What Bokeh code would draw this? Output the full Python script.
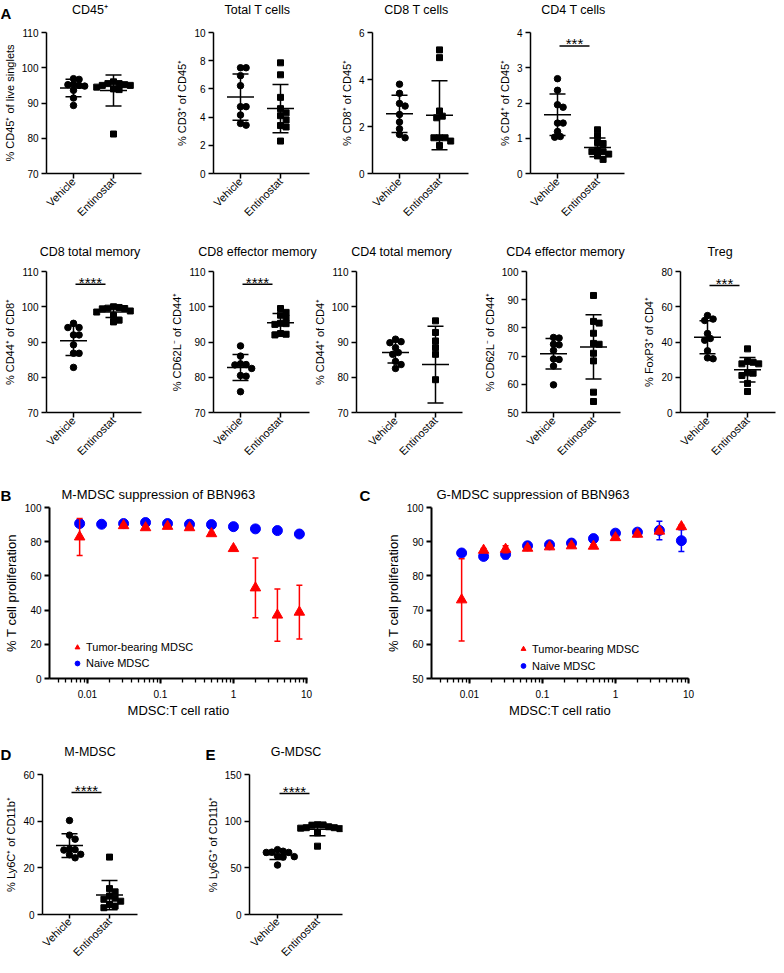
import math
import numpy as np
from bokeh.plotting import figure
from bokeh.layouts import row, column
from bokeh.models import (Range1d, FixedTicker, Legend, LegendItem,
                          CustomJSTickFormatter)
from bokeh.core.properties import value
from bokeh.embed import file_html
from bokeh.resources import INLINE

FONT = "Liberation Sans"
NAN = float("nan")

# ---------------- data ----------------
groups = ["Vehicle", "Entinostat"]

cd45_veh = [96.9, 96.7, 95.2, 95.0, 95.3, 94.8, 93.6, 91.4, 89.3]
cd45_ent = [95.5, 95.0, 95.2, 96.0, 95.0, 94.5, 94.0, 95.5, 93.8, 81.2]
totalt_veh = [7.5, 7.5, 6.94, 6.23, 4.74, 4.74, 4.15, 3.55, 3.43]
totalt_ent = [7.85, 7.0, 5.4, 4.6, 4.3, 4.1, 3.8, 3.3, 3.4, 2.3]
cd8_veh = [3.80, 3.41, 2.98, 2.87, 2.51, 2.19, 1.90, 1.52, 1.66]
cd8_ent = [5.26, 4.93, 2.66, 2.44, 2.37, 1.52, 1.52, 1.52, 1.19, 1.38]
cd4_veh = [2.69, 2.36, 1.95, 1.88, 1.43, 1.43, 1.19, 1.03, 1.05]
cd4_ent = [1.24, 1.07, 0.88, 0.85, 0.62, 0.55, 0.67, 0.62, 0.40, 0.50]
cd8tm_veh = [95.3, 94.1, 94.1, 92.0, 92.0, 89.2, 86.8, 86.8, 82.8]
cd8tm_ent = [99.6, 99.5, 99.8, 100.0, 99.4, 98.8, 98.5, 97.5, 96.2, 95.7]
cd8em_veh = [88.9, 86.0, 83.8, 83.5, 83.6, 82.5, 80.5, 80.3, 75.9]
cd8em_ent = [99.5, 98.4, 97.6, 96.8, 95.2, 95.0, 95.3, 92.2, 92.0, 92.4]
cd4tm_veh = [90.8, 90.1, 89.8, 88.4, 87.0, 86.5, 84.5, 83.6, 82.5]
cd4tm_ent = [96.0, 92.7, 90.3, 88.4, 86.5, 79.3, 67.8, 67.8]
cd4em_veh = [76.6, 76.4, 74.2, 74.0, 72.0, 69.0, 68.8, 66.5, 59.8]
cd4em_ent = [91.5, 81.7, 82.3, 78.1, 74.2, 74.5, 71.0, 68.3, 57.2, 53.9]
treg_veh = [55.0, 53.0, 52.2, 44.8, 42.0, 41.0, 35.0, 30.5, 31.0]
treg_ent = [36.1, 27.6, 29.0, 28.5, 27.6, 22.3, 21.0, 22.5, 16.5, 11.9]
mmdsc_veh = [40.3, 34.0, 32.3, 28.0, 27.8, 27.6, 25.6, 24.3, 25.8]
mmdsc_ent = [24.6, 11.1, 9.7, 7.9, 5.7, 4.3, 2.9, 3.6, 6.5, 7.0]
gmdsc_veh = [69.5, 67.8, 66.5, 66.5, 66.8, 62.5, 61.5, 62.0, 53.0]
gmdsc_ent = [95.7, 96.0, 96.2, 93.0, 93.0, 92.0, 94.0, 87.5, 73.2, 92.5]

ratio = [0.0078125, 0.015625, 0.03125, 0.0625, 0.125, 0.25, 0.5, 1, 2, 4, 8]
b_naive = [90.6, 90.2, 90.6, 91.2, 90.6, 90.2, 90.0, 88.8, 87.5, 86.5, 84.5]
b_naive_sd = [0.6, 0.5, 0.5, 0.6, 0.5, 0.5, 0.5, 0.6, 0.6, 0.6, 0.7]
b_tumor = [82.8, NAN, 89.4, 88.2, 89.0, 88.2, 84.7, 76.0, 53.0, 37.1, 38.8]
b_tumor_sd = [10.8, NAN, 0.8, 0.8, 0.8, 0.8, 0.8, 0.8, 17.5, 15.3, 15.7]
c_naive = [86.7, 85.7, 86.3, 88.8, 89.1, 89.6, 90.9, 92.5, 92.8, 93.3, 90.3]
c_naive_sd = [0.3, 0.4, 1.3, 0.4, 0.4, 0.4, 0.4, 0.4, 0.4, 2.7, 3.2]
c_tumor = [73.0, 87.5, 87.8, 88.1, 88.5, 88.8, 88.7, 91.2, 92.2, 93.1, 94.4]
c_tumor_sd = [12.0, 0.5, 1.0, 0.5, 0.5, 0.5, 0.5, 0.5, 0.5, 0.5, 0.5]

PAGE_W = 768

# ---------------- helpers ----------------
def base_fig(fw, fh, xr, yr, left, right, top, bottom, log=False):
    kw = dict(frame_width=fw, frame_height=fh, x_range=xr, y_range=yr,
              min_border_left=left, min_border_right=right,
              min_border_top=top, min_border_bottom=bottom, title=None,
              output_backend="svg", toolbar_location=None)
    if log:
        kw["x_axis_type"] = "log"
    p = figure(**kw)
    p.outline_line_color = None
    p.xgrid.visible = False
    p.ygrid.visible = False
    return p


def strip(h, texts):
    """A text-only band; texts = (x, y_from_top, text, size, align, bold)."""
    p = figure(frame_width=PAGE_W, frame_height=h, x_range=Range1d(0, PAGE_W),
               y_range=Range1d(h, 0), min_border_left=0, min_border_right=0,
               min_border_top=0, min_border_bottom=0, title=None,
               output_backend="svg", toolbar_location=None)
    p.axis.visible = False
    p.xgrid.visible = False
    p.ygrid.visible = False
    p.outline_line_color = None
    for x, y, t, size, align, bold in texts:
        p.text(x=[x], y=[y], text=[t], text_font=value(FONT), text_font_size=size,
               text_align=align, text_baseline="alphabetic", text_color="black",
               text_font_style="bold" if bold else "normal")
    return p


def style_axes(p, lw):
    for ax in p.axis:
        ax.axis_line_width = lw
        ax.axis_line_color = "black"
        ax.major_tick_line_width = lw
        ax.major_tick_line_color = "black"
        ax.major_tick_in = 0
        ax.major_tick_out = 5
        ax.minor_tick_line_color = None
        ax.major_label_text_font = FONT
        ax.major_label_text_color = "black"
        ax.axis_label_text_font = FONT
        ax.axis_label_text_font_style = "normal"
        ax.axis_label_text_color = "black"


def swarm(vals, pxy, d):
    n = len(vals)
    order = sorted(range(n), key=lambda i: -vals[i])
    cands = [0.0]
    for k in range(1, 16):
        cands += [k * d / 2.0, -k * d / 2.0]
    placed, offs = [], [0.0] * n
    for i in order:
        y = vals[i] * pxy
        for c in cands:
            if all((c - px) ** 2 + (y - py) ** 2 >= d * d * 0.999 for px, py in placed):
                offs[i] = c
                placed.append((c, y))
                break
    return offs


def dot_panel(ylabel, veh, ent, yr, yticks, fw, x0, left, right, top, bottom,
              fh=141, sig=None, tick_out=5):
    x1 = x0 + fw / 40.0
    p = base_fig(fw, fh, Range1d(x0, x1), Range1d(*yr), left, right, top, bottom)
    style_axes(p, 1.5)
    p.xaxis.major_tick_out = tick_out
    p.xaxis.ticker = FixedTicker(ticks=[1, 2])
    p.xaxis.major_label_overrides = {1: groups[0], 2: groups[1]}
    p.xaxis.major_label_orientation = math.pi / 4
    p.xaxis.major_label_text_font_size = "11px"
    p.xaxis.major_label_standoff = 1
    p.yaxis.ticker = FixedTicker(ticks=yticks)
    p.yaxis.major_label_text_font_size = "10px"
    p.yaxis.major_label_standoff = 3
    p.yaxis.axis_label = ylabel
    p.yaxis.axis_label_text_font_size = "11px"
    p.yaxis.axis_label_standoff = 3
    pxx = fw / (x1 - x0)
    pxy = fh / (yr[1] - yr[0])
    for gi, (vals, marker, size) in enumerate([(veh, "circle", 6.5), (ent, "square", 6.0)]):
        xc = gi + 1
        offs = swarm(vals, pxy, 5.6)
        xs = [xc + o / pxx for o in offs]
        p.scatter(xs, vals, marker=marker, size=size, fill_color="black", line_color="black")
        m = float(np.mean(vals))
        s = float(np.std(vals, ddof=1))
        p.segment(x0=[xc], y0=[m - s], x1=[xc], y1=[m + s], line_width=1.5, line_color="black")
        p.scatter([xc, xc], [m - s, m + s], marker="dash", size=16, line_width=1.5, line_color="black")
        p.scatter([xc], [m], marker="dash", size=27, line_width=1.5, line_color="black")
    if sig is not None:
        sy, stars = sig
        p.segment(x0=[1.05], y0=[sy], x1=[1.8], y1=[sy], line_width=1.5, line_color="black")
        p.text(x=[1.425], y=[sy], text=[stars], text_font=value(FONT), text_font_size="15px",
               text_align="center", text_baseline="middle", y_offset=-2, text_color="black")
    return p


def curve_panel(naive, naive_sd, tumor, tumor_sd, yr, yticks, fw, fh, left, right,
                top, bottom, legend_loc, glyph_h):
    xr = Range1d(10 ** -2.52, 10 ** (-2.52 + fw / 73.0))
    p = base_fig(fw, fh, xr, Range1d(*yr), left, right, top, bottom, log=True)
    style_axes(p, 2)
    majors = [0.01, 0.1, 1, 10]
    minors = [m * 10.0 ** k for k in range(-3, 2) for m in range(1, 10)
              if 10 ** -2.52 <= m * 10.0 ** k <= 10.5]
    p.xaxis.ticker = FixedTicker(ticks=majors, minor_ticks=minors)
    p.xaxis.formatter = CustomJSTickFormatter(code="return tick.toString();")
    p.xaxis.minor_tick_line_color = "black"
    p.xaxis.minor_tick_line_width = 1.3
    p.xaxis.minor_tick_in = 0
    p.xaxis.minor_tick_out = 4
    p.xaxis.major_label_text_font_size = "10px"
    p.xaxis.major_label_standoff = 6
    p.xaxis.axis_label = "MDSC:T cell ratio"
    p.xaxis.axis_label_text_font_size = "13px"
    p.xaxis.axis_label_standoff = 2
    p.yaxis.ticker = FixedTicker(ticks=yticks)
    p.yaxis.major_label_text_font_size = "10px"
    p.yaxis.major_label_standoff = 3
    p.yaxis.axis_label = "% T cell proliferation"
    p.yaxis.axis_label_text_font_size = "13px"
    p.yaxis.axis_label_standoff = 3

    blue, red = "#0000FF", "#FF0000"
    lo = [m - s for m, s in zip(naive, naive_sd)]
    hi = [m + s for m, s in zip(naive, naive_sd)]
    p.segment(x0=ratio, y0=lo, x1=ratio, y1=hi, line_color=blue, line_width=1.5)
    p.scatter(ratio + ratio, lo + hi, marker="dash", size=6, line_color=blue, line_width=1.5)
    r_blue = p.scatter(ratio, naive, marker="circle", size=10, fill_color=blue, line_color=blue)
    lo = [m - s for m, s in zip(tumor, tumor_sd)]
    hi = [m + s for m, s in zip(tumor, tumor_sd)]
    p.segment(x0=ratio, y0=lo, x1=ratio, y1=hi, line_color=red, line_width=1.5)
    p.scatter(ratio + ratio, lo + hi, marker="dash", size=6, line_color=red, line_width=1.5)
    r_red = p.scatter(ratio, tumor, marker="triangle", size=10.5, fill_color=red, line_color=red)

    leg = Legend(items=[LegendItem(label="Tumor-bearing MDSC", renderers=[r_red]),
                        LegendItem(label="Naive MDSC", renderers=[r_blue])],
                 location=legend_loc, border_line_color=None, background_fill_alpha=0,
                 padding=0, margin=0, spacing=0, glyph_width=12, glyph_height=glyph_h,
                 label_height=glyph_h, label_standoff=3, label_text_font=FONT,
                 label_text_font_size="11px", label_text_color="black")
    p.add_layout(leg)
    return p


T = "12.5px"
L = "15px"

# ---------------- Row A ----------------
stripA = strip(26, [(0, 12.5, "A", L, "left", True),
                    (89.5, 9.5, "CD45\u207a", T, "center", False),
                    (257, 9.5, "Total T cells", T, "center", False),
                    (416, 9.5, "CD8 T cells", T, "center", False),
                    (573, 9.5, "CD4 T cells", T, "center", False)])
a1 = dot_panel("% CD45\u207a of live singlets", cd45_veh, cd45_ent,
               (70, 110), [70, 80, 90, 100, 110], 95, 0.325, 42, 22, 6, 53)
a2 = dot_panel("% CD3\u207a of CD45\u207a", totalt_veh, totalt_ent,
               (0, 10), [0, 2, 4, 6, 8, 10], 96, 0.325, 50, 13, 6, 53)
a3 = dot_panel("% CD8\u207a of CD45\u207a", cd8_veh, cd8_ent,
               (0, 6), [0, 2, 4, 6], 96, 0.325, 50, 12, 6, 53)
a4 = dot_panel("% CD4\u207a of CD45\u207a", cd4_veh, cd4_ent,
               (0, 4), [0, 1, 2, 3, 4], 94, 0.325, 50, 10, 6, 53, sig=(3.62, "***"))

# ---------------- Row A (second line) ----------------
strip2 = strip(38, [(89.5, 25, "CD8 total memory", T, "center", False),
                    (257, 25, "CD8 effector memory", T, "center", False),
                    (401, 25, "CD4 total memory", T, "center", False),
                    (565, 25, "CD4 effector memory", T, "center", False),
                    (719.5, 25, "Treg", T, "center", False)])
b1 = dot_panel("% CD44\u207a of CD8\u207a", cd8tm_veh, cd8tm_ent,
               (70, 110), [70, 80, 90, 100, 110], 95, 0.325, 42, 22, 7, 52,
               sig=(106.4, "****"))
b2 = dot_panel("% CD62L\u207b of CD44\u207a", cd8em_veh, cd8em_ent,
               (70, 110), [70, 80, 90, 100, 110], 96, 0.325, 50, 1, 7, 52,
               sig=(106.4, "****"))
b3 = dot_panel("% CD44\u207a of CD4\u207a", cd4tm_veh, cd4tm_ent,
               (70, 110), [70, 80, 90, 100, 110], 106, 0.025, 42, 14, 7, 52)
b4 = dot_panel("% CD62L\u207b of CD44\u207a", cd4em_veh, cd4em_ent,
               (50, 100), [50, 60, 70, 80, 90, 100], 94, 0.325, 50, 12, 7, 52)
b5 = dot_panel("% FoxP3\u207a of CD4\u207a", treg_veh, treg_ent,
               (0, 80), [0, 20, 40, 60, 80], 95, 0.325, 48, 1, 7, 52, sig=(72.1, "***"))

# ---------------- Row B / C ----------------
stripBC = strip(38, [(0, 30.5, "B", L, "left", True),
                     (359, 30.5, "C", L, "left", True),
                     (61, 30, "M-MDSC suppression of BBN963", "13px", "left", False),
                     (436, 30, "G-MDSC suppression of BBN963", "13px", "left", False)])
pB = curve_panel(b_naive, b_naive_sd, b_tumor, b_tumor_sd,
                 (0, 100), [0, 20, 40, 60, 80, 100], 258, 171, 41, 75, 5, 48, (22, 7), 16)
pC = curve_panel(c_naive, c_naive_sd, c_tumor, c_tumor_sd,
                 (50, 100), [50, 60, 70, 80, 90, 100], 257, 171, 43, 20, 5, 48, (86, 4), 17)

# ---------------- Row D / E ----------------
stripDE = strip(41, [(0, 27.5, "D", L, "left", True),
                     (205, 27.5, "E", L, "left", True),
                     (89.5, 25, "M-MDSC", T, "center", False),
                     (295.5, 25, "G-MDSC", T, "center", False)])
pD = dot_panel("% Ly6C\u207a of CD11b\u207a", mmdsc_veh, mmdsc_ent,
               (0, 60), [0, 20, 40, 60], 95, 0.325, 42, 62, 7, 49, fh=140,
               sig=(52.3, "****"), tick_out=4)
pE = dot_panel("% Ly6G\u207a of CD11b\u207a", gmdsc_veh, gmdsc_ent,
               (0, 150), [0, 50, 100, 150], 93, 0.3, 50, 10, 7, 49, fh=140,
               sig=(129.6, "****"), tick_out=4)

layout = column(stripA, row(a1, a2, a3, a4),
                strip2, row(b1, b2, b3, b4, b5),
                stripBC, row(pB, pC),
                stripDE, row(pD, pE))

open("out.html", "w").write(file_html(layout, INLINE))
